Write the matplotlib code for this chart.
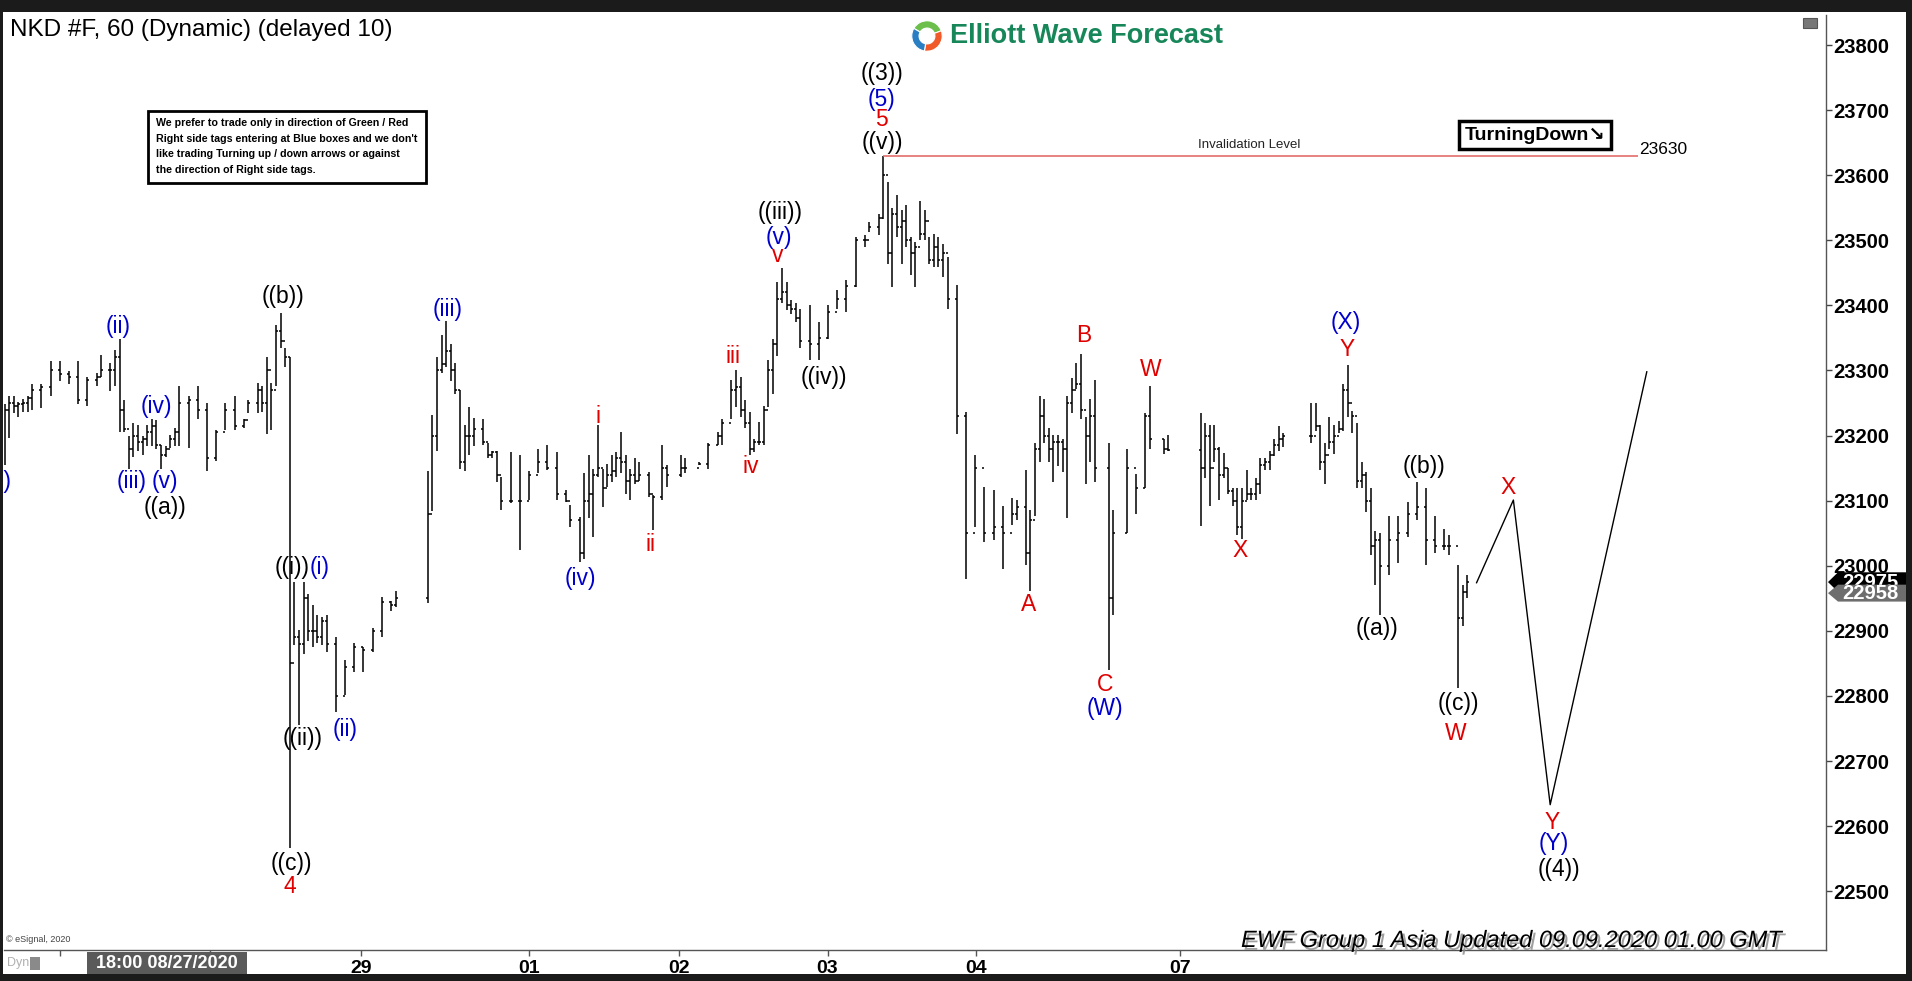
import matplotlib
matplotlib.use("Agg")
import matplotlib.pyplot as plt
import matplotlib.patheffects as pe
import matplotlib.transforms as mtransforms
from matplotlib import font_manager
from matplotlib.patches import Rectangle, Polygon, Wedge

W, H = 1912, 981

# hourly bars (slot = hour index on the chart)
slot = [1, 2, 3, 4, 5, 6, 7, 9, 11, 13,
        15, 17, 19, 21, 22, 24, 25, 26, 27, 28,
        29, 30, 31, 32, 33, 34, 35, 36, 37, 38,
        39, 41, 43, 45, 47, 49, 51, 53, 54, 56,
        57, 58, 59, 60, 61, 62, 63, 64, 65, 66,
        67, 68, 69, 70, 71, 73, 75, 77, 79, 81,
        83, 85, 86, 93, 94, 95, 96, 97, 98, 99,
        100, 101, 102, 103, 105, 106, 107, 108, 109, 111,
        113, 115, 117, 119, 121, 123, 124, 126, 127, 128,
        129, 130, 131, 132, 133, 134, 135, 136, 137, 138,
        139, 141, 142, 144, 145, 148, 149, 152, 154, 156,
        157, 159, 160, 161, 162, 163, 164, 165, 166, 167,
        168, 169, 170, 171, 172, 173, 174, 176, 178, 180,
        182, 184, 186, 188, 189, 191, 192, 193, 194, 195,
        196, 197, 198, 199, 200, 201, 202, 203, 204, 205,
        206, 208, 210, 212, 214, 216, 218, 220, 221, 223,
        224, 225, 226, 227, 228, 229, 230, 231, 232, 233,
        234, 235, 236, 237, 238, 241, 242, 245, 247, 249,
        250, 253, 254, 261, 262, 263, 264, 265, 266, 267,
        268, 269, 270, 271, 272, 273, 274, 275, 276, 277,
        278, 279, 285, 286, 287, 288, 289, 290, 291, 292,
        293, 294, 295, 296, 297, 298, 299, 300, 302, 304,
        306, 308, 310, 312, 314, 315, 317, 318, 319]

high = [23249, 23261, 23261, 23252, 23256, 23261, 23280, 23280, 23315, 23315,
        23299, 23315, 23290, 23296, 23324, 23311, 23331, 23349, 23255, 23199,
        23220, 23217, 23199, 23217, 23226, 23224, 23186, 23184, 23201, 23211,
        23276, 23261, 23276, 23250, 23209, 23250, 23261, 23226, 23255, 23281,
        23276, 23320, 23281, 23370, 23389, 23334, 23320, 22975, 22902, 22975,
        22956, 22940, 22925, 22922, 22925, 22890, 22855, 22881, 22875, 22905,
        22952, 22946, 22961, 23146, 23231, 23320, 23355, 23376, 23340, 23311,
        23270, 23217, 23244, 23227, 23225, 23188, 23177, 23176, 23137, 23175,
        23170, 23146, 23180, 23185, 23175, 23116, 23093, 23075, 23142, 23170,
        23149, 23216, 23149, 23157, 23170, 23175, 23206, 23170, 23149, 23165,
        23160, 23144, 23108, 23185, 23155, 23170, 23165, 23160, 23188, 23206,
        23225, 23285, 23300, 23290, 23255, 23236, 23195, 23221, 23245, 23316,
        23349, 23436, 23457, 23436, 23408, 23403, 23395, 23400, 23375, 23400,
        23423, 23439, 23505, 23508, 23528, 23541, 23630, 23590, 23549, 23569,
        23546, 23554, 23505, 23497, 23561, 23546, 23505, 23510, 23505, 23495,
        23475, 23431, 23236, 23170, 23121, 23116, 23092, 23104, 23101, 23147,
        23086, 23189, 23261, 23256, 23211, 23201, 23201, 23195, 23261, 23289,
        23311, 23325, 23229, 23256, 23285, 23189, 23085, 23180, 23141, 23235,
        23276, 23195, 23201, 23235, 23220, 23217, 23217, 23183, 23174, 23150,
        23119, 23119, 23119, 23147, 23119, 23135, 23165, 23165, 23176, 23195,
        23215, 23204, 23250, 23250, 23217, 23189, 23229, 23217, 23223, 23280,
        23308, 23238, 23220, 23159, 23144, 23119, 23053, 23050, 23077, 23077,
        23098, 23129, 23119, 23077, 23056, 23047, 23001, 22971, 22986]

low = [23155, 23196, 23234, 23228, 23237, 23237, 23240, 23243, 23261, 23284,
       23280, 23249, 23246, 23276, 23290, 23268, 23276, 23205, 23205, 23149,
       23167, 23176, 23170, 23184, 23184, 23179, 23149, 23167, 23181, 23184,
       23184, 23181, 23226, 23146, 23161, 23208, 23209, 23211, 23234, 23234,
       23237, 23202, 23208, 23276, 23334, 23305, 22566, 22878, 22755, 22864,
       22884, 22875, 22881, 22878, 22867, 22775, 22802, 22837, 22837, 22867,
       22890, 22931, 22937, 22943, 23084, 23176, 23296, 23305, 23284, 23264,
       23149, 23146, 23170, 23184, 23185, 23165, 23165, 23129, 23085, 23096,
       23024, 23101, 23142, 23147, 23101, 23098, 23060, 23006, 23011, 23073,
       23044, 23137, 23091, 23121, 23129, 23137, 23142, 23111, 23101, 23126,
       23131, 23106, 23055, 23101, 23121, 23137, 23142, 23155, 23149, 23185,
       23185, 23225, 23244, 23229, 23211, 23170, 23175, 23185, 23185, 23244,
       23264, 23323, 23403, 23393, 23387, 23375, 23334, 23316, 23316, 23349,
       23395, 23390, 23428, 23490, 23513, 23508, 23533, 23464, 23428, 23505,
       23464, 23490, 23446, 23428, 23500, 23500, 23464, 23459, 23459, 23444,
       23395, 23203, 22980, 23060, 23037, 23039, 22995, 23062, 23071, 23001,
       22962, 23077, 23159, 23189, 23159, 23129, 23153, 23144, 23074, 23235,
       23271, 23226, 23126, 23159, 23129, 22840, 22925, 23051, 23080, 23120,
       23180, 23171, 23176, 23061, 23135, 23092, 23159, 23101, 23135, 23110,
       23092, 23047, 23041, 23101, 23101, 23101, 23110, 23147, 23147, 23168,
       23177, 23183, 23189, 23207, 23147, 23126, 23180, 23171, 23204, 23207,
       23229, 23204, 23119, 23119, 23083, 23016, 22971, 22925, 22986, 23004,
       23044, 23071, 23001, 23019, 23025, 23016, 22813, 22907, 22950]

close = [23240, 23250, 23245, 23248, 23250, 23258, 23270, 23275, 23300, 23295,
         23290, 23255, 23285, 23290, 23300, 23300, 23320, 23240, 23210, 23180,
         23200, 23190, 23195, 23205, 23215, 23185, 23170, 23180, 23195, 23205,
         23250, 23255, 23240, 23165, 23205, 23240, 23215, 23224, 23250, 23270,
         23250, 23300, 23270, 23360, 23345, 23320, 22850, 22890, 22880, 22950,
         22900, 22900, 22890, 22915, 22880, 22800, 22845, 22875, 22870, 22900,
         22945, 22940, 22950, 23080, 23200, 23300, 23310, 23330, 23300, 23270,
         23160, 23200, 23200, 23210, 23190, 23170, 23175, 23140, 23100, 23100,
         23100, 23140, 23160, 23150, 23110, 23100, 23070, 23020, 23100, 23110,
         23140, 23150, 23120, 23140, 23145, 23165, 23160, 23130, 23140, 23130,
         23140, 23110, 23105, 23150, 23140, 23150, 23150, 23157, 23185, 23200,
         23220, 23270, 23275, 23240, 23220, 23180, 23190, 23190, 23240, 23300,
         23340, 23410, 23420, 23400, 23395, 23380, 23345, 23340, 23350, 23390,
         23410, 23430, 23500, 23500, 23520, 23535, 23600, 23480, 23540, 23520,
         23530, 23500, 23480, 23490, 23510, 23530, 23470, 23490, 23470, 23480,
         23410, 23230, 23050, 23150, 23050, 23060, 23050, 23080, 23090, 23020,
         23070, 23180, 23230, 23200, 23180, 23190, 23190, 23180, 23250, 23270,
         23280, 23240, 23200, 23230, 23150, 22950, 23050, 23150, 23120, 23230,
         23195, 23180, 23178, 23150, 23200, 23150, 23180, 23140, 23150, 23115,
         23100, 23060, 23100, 23110, 23110, 23125, 23155, 23160, 23170, 23185,
         23195, 23200, 23200, 23215, 23160, 23170, 23190, 23200, 23210, 23270,
         23250, 23230, 23130, 23140, 23100, 23030, 23040, 23000, 23040, 23050,
         23080, 23090, 23040, 23030, 23030, 23030, 22920, 22960, 22975]

assert len(slot) == len(high) == len(low) == len(close)

# day separators on the time axis
day_ticks = [13.0, 45.7, 78.5, 115.0, 147.6, 179.9, 212.2, 256.5]
day_labels = ["", "", "29", "01", "02", "03", "04", "07"]
price_ticks = list(range(22500, 23801, 100))

# projected path drawn after the last bar
proj_slot = [321, 329, 337, 358]
proj_price = [22974, 23101, 22633, 23298]

invalidation = 23630
inval_span = (192, 356)
last_price = 22975
quote_price = 22958

RED, BLUE, BLACK = "#e00000", "#0000cc", "#000000"
waves = [
    ("(i)", 0.4, 23129, BLUE), ("(ii)", 25.7, 23367, BLUE),
    ("(iii)", 28.6, 23129, BLUE), ("(iv)", 34.0, 23245, BLUE),
    ("(v)", 35.8, 23129, BLUE), ("((a))", 35.8, 23090, BLACK),
    ("((b))", 61.5, 23414, BLACK), ("((i))", 63.6, 22998, BLACK),
    ("(i)", 69.4, 22998, BLUE), ("((ii))", 65.7, 22734, BLACK),
    ("(ii)", 75.0, 22748, BLUE), ("((c))", 63.3, 22543, BLACK),
    ("4", 63.1, 22507, RED), ("(iii)", 97.3, 23394, BLUE),
    ("(iv)", 126.1, 22981, BLUE), ("i", 130.1, 23230, RED),
    ("ii", 141.5, 23033, RED), ("iii", 159.3, 23321, RED),
    ("iv", 163.3, 23152, RED), ("v", 169.1, 23476, RED),
    ("(v)", 169.4, 23505, BLUE), ("((iii))", 169.6, 23543, BLACK),
    ("((iv))", 179.2, 23290, BLACK), ("((v))", 191.9, 23650, BLACK),
    ("5", 191.7, 23685, RED), ("(5)", 191.7, 23717, BLUE),
    ("((3))", 191.7, 23757, BLACK), ("A", 223.5, 22940, RED),
    ("B", 235.7, 23354, RED), ("C", 240.2, 22817, RED),
    ("(W)", 240.2, 22781, BLUE), ("W", 250.2, 23302, RED),
    ("X", 269.6, 23023, RED), ("(X)", 292.6, 23373, BLUE),
    ("Y", 292.9, 23333, RED), ("((a))", 299.3, 22903, BLACK),
    ("((b))", 309.6, 23153, BLACK), ("((c))", 317.0, 22788, BLACK),
    ("W", 316.5, 22743, RED), ("X", 327.9, 23120, RED),
    ("Y", 337.4, 22606, RED), ("(Y)", 337.8, 22573, BLUE),
    ("((4))", 339.0, 22534, BLACK),
]

note_lines = [
    "We prefer to trade only in direction of Green / Red",
    "Right side tags entering at Blue boxes and we don't",
    "like trading Turning up / down arrows or against",
    "the direction of Right side tags.",
]

plt.rcParams["font.family"] = ["Liberation Sans", "DejaVu Sans"]
names = {f.name for f in font_manager.fontManager.ttflist}
HAS_NARROW = "Liberation Sans Narrow" in names
NARROW = "Liberation Sans Narrow" if HAS_NARROW else "Liberation Sans"


def fx(px):
    return px / W


def fy(py):
    return 1 - py / H


fig = plt.figure(figsize=(W / 100, H / 100), dpi=100)
fig.patch.set_facecolor("white")

ax = fig.add_axes([fx(4), fy(950), fx(1826) - fx(4), fy(15) - fy(950)])
ax.set_xlim(0.87, 396.96)
ax.set_ylim(22409.8, 23846.1)

# OHLC bars, open tick taken at the previous bar's close
ax.vlines(slot, low, high, color="black", lw=1.1)
ax.hlines(close, slot, [s + 0.45 for s in slot], color="black", lw=1.1)
ax.hlines(close[:-1], [s - 0.45 for s in slot[1:]], slot[1:], color="black", lw=1.1)

ax.plot(proj_slot, proj_price, color="black", lw=1.0)
ax.hlines(invalidation, *inval_span, color="#e06060", lw=1.1)
ax.text(271.5, 23646, "Invalidation Level", fontsize=9.5, color="#222222",
        ha="center", va="center")
ax.text(356.4, invalidation + 3, str(invalidation), fontsize=12.5,
        ha="left", va="baseline")

for txt, x, y, c in waves:
    ax.text(x, y, txt, color=c, fontsize=16.5, ha="center", va="center")

# axes styling
ax.yaxis.tick_right()
ax.set_yticks(price_ticks)
ax.set_yticklabels([str(p) for p in price_ticks], fontsize=14.5, fontweight="bold")
ax.tick_params(axis="y", direction="out", length=4, width=1, pad=1, color="#444444")
ax.set_xticks(day_ticks)
ax.set_xticklabels(day_labels, fontsize=15 if HAS_NARROW else 14, fontweight="bold",
                   family=NARROW)
ax.tick_params(axis="x", direction="out", length=4, width=1, pad=3, color="#555555")
for s in ["top", "left"]:
    ax.spines[s].set_visible(False)
for s in ["right", "bottom"]:
    ax.spines[s].set_color("#555555")
    ax.spines[s].set_linewidth(1)

# price tags on the right axis
tr = mtransforms.blended_transform_factory(ax.transAxes, ax.transData)


def tag(price, half, face, zorder):
    x0, x1, x2 = (1828 - 4) / 1822, (1838 - 4) / 1822, (1906 - 4) / 1822
    poly = Polygon([(x0, price), (x1, price + half), (x2, price + half),
                    (x2, price - half), (x1, price - half)], closed=True,
                   transform=tr, fc=face, ec="none", clip_on=False, zorder=zorder)
    ax.add_patch(poly)
    ax.text((1842 - 4) / 1822, price, str(price), transform=tr, color="white",
            fontsize=14.5, fontweight="bold", ha="left", va="center",
            clip_on=False, zorder=zorder + 0.1)


tag(last_price, 15, "black", 1)
tag(quote_price, 13, "#6e6e6e", 4)

# titles and decorations
fig.text(fx(10), fy(30), "NKD #F, 60 (Dynamic) (delayed 10)", fontsize=17.5,
         va="center", ha="left")
fig.text(fx(950), fy(36), "Elliott Wave Forecast", fontsize=19.5, fontweight="bold",
         color="#17875a", va="center", ha="left")
lax = fig.add_axes([fx(911), fy(52), 32 / W, 32 / H])
lax.set_xlim(-1.05, 1.05)
lax.set_ylim(-1.05, 1.05)
lax.axis("off")
for t1, t2, c in [(20, 150, "#6cbf4a"), (-100, 20, "#ef5a28"), (150, 260, "#2a7fc4")]:
    lax.add_patch(Wedge((0, 0), 1.0, t1, t2, width=0.48, fc=c, ec="white", lw=0.8))

fig.add_artist(Rectangle((fx(148), fy(183)), fx(426) - fx(148), (183 - 111) / H,
                         transform=fig.transFigure, fc="white", ec="black", lw=2))
for i, line in enumerate(note_lines):
    fig.text(fx(156), fy(123 + 15.6 * i), line, fontsize=7.7, fontweight="bold",
             va="center", ha="left")

fig.text(fx(1535), fy(135), "TurningDown\u2198", fontsize=14, fontweight="bold",
         ha="center", va="center", family=["Liberation Sans", "DejaVu Sans"],
         bbox=dict(boxstyle="square,pad=0.28", fc="white", ec="black", lw=2.5))

fig.add_artist(Rectangle((fx(1803), fy(28)), 14 / W, 10 / H, transform=fig.transFigure,
                         fc="#777777", ec="#555555", lw=0.8))

fig.text(fx(6), fy(940), "\u00a9 eSignal, 2020", fontsize=6.5, color="#444444",
         va="center", ha="left")
fig.text(fx(1241), fy(947), "EWF Group 1 Asia Updated 09.09.2020 01.00 GMT",
         fontsize=17, style="italic", family=NARROW, va="baseline", ha="left",
         path_effects=[pe.withSimplePatchShadow(offset=(2, -2), shadow_rgbFace="#888888",
                                                alpha=0.8)])

# bottom bar: date box and "Dyn" lock
fig.add_artist(Rectangle((fx(87), fy(975)), fx(247) - fx(87), (975 - 952) / H,
                         transform=fig.transFigure, fc="#5a5a5a", ec="none"))
fig.text(fx(167), fy(963.5), "18:00 08/27/2020", fontsize=15 if HAS_NARROW else 13,
         fontweight="bold", family=NARROW, color="white", ha="center", va="center")
fig.text(fx(7), fy(963), "Dyn", fontsize=9, color="#b0b0b0", va="center", ha="left")
fig.add_artist(Rectangle((fx(30), fy(970)), 10 / W, 13 / H, transform=fig.transFigure,
                         fc="#8a8a8a", ec="none"))

# window frame
frame = "#1b1b1b"
for rect in [(0, fy(12), 1, 12 / H), (0, 0, 3 / W, 1), (fx(1906), 0, 6 / W, 1),
             (0, 0, 1, 7 / H)]:
    fig.add_artist(Rectangle(rect[:2], rect[2], rect[3], transform=fig.transFigure,
                             fc=frame, ec="none", zorder=20))

fig.savefig("out.png", dpi=100)
